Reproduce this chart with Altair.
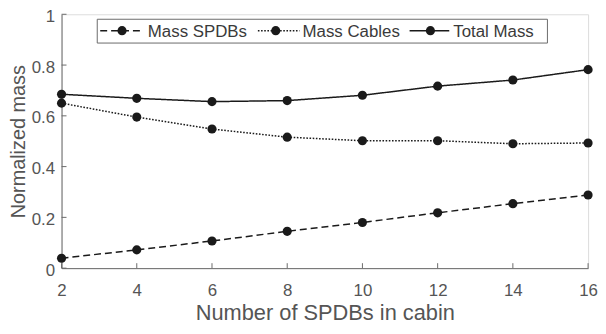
import altair as alt
import pandas as pd

spdbs_count = [2, 4, 6, 8, 10, 12, 14, 16]
mass_spdbs = [0.039, 0.072, 0.107, 0.145, 0.180, 0.218, 0.254, 0.288]
mass_cables = [0.650, 0.595, 0.548, 0.516, 0.502, 0.502, 0.490, 0.493]
total_mass = [0.685, 0.669, 0.656, 0.660, 0.681, 0.717, 0.741, 0.782]
series_names = ["Mass SPDBs", "Mass Cables", "Total Mass"]
x_ticks = [2, 4, 6, 8, 10, 12, 14, 16]
y_ticks = [0, 0.2, 0.4, 0.6, 0.8, 1]

rows = []
for name, vals in zip(series_names, [mass_spdbs, mass_cables, total_mass]):
    for n, v in zip(spdbs_count, vals):
        rows.append({"n": n, "mass": v, "series": name})
df = pd.DataFrame(rows)

W, H = 531, 256
FONT = "Liberation Sans"
TXT = "#555555"
AX = "#6a6a6a"
INK = "#1a1a1a"
dashes = [[7, 4], [1.6, 1.6], [1, 0]]

xs = alt.Scale(domain=[2, 16], nice=False, zero=False)
ys = alt.Scale(domain=[0, 1], nice=False)

base = alt.Chart(df)
lines = base.mark_line(color=INK, strokeWidth=1.5).encode(
    x=alt.X("n:Q", scale=xs, axis=alt.Axis(
        values=x_ticks, title="Number of SPDBs in cabin", grid=False, ticks=False,
        labelFont=FONT, labelFontSize=17, labelColor=TXT, labelBaseline="alphabetic",
        labelPadding=28, titleFont=FONT, titleFontSize=22, titleFontWeight="normal",
        titleColor=TXT, titleX=W / 2, titleY=52, titleBaseline="alphabetic",
        titleAnchor="middle", domainColor=AX, labelFlush=False)),
    y=alt.Y("mass:Q", scale=ys, axis=alt.Axis(
        values=y_ticks, format="~g", title="Normalized mass", grid=False, ticks=False,
        labelFont=FONT, labelFontSize=17, labelColor=TXT, labelPadding=7,
        labelOffset=2, titleFont=FONT, titleFontSize=20, titleFontWeight="normal",
        titleColor=TXT, titleX=-37, titleY=H / 2, titleAngle=270,
        titleBaseline="alphabetic", titleAlign="center", domainColor=AX,
        labelFlush=False)),
    strokeDash=alt.StrokeDash("series:N", scale=alt.Scale(domain=series_names, range=dashes), legend=None),
    detail="series:N",
)
points = base.mark_point(filled=True, color=INK, size=85, opacity=1).encode(
    x=alt.X("n:Q", scale=xs), y=alt.Y("mass:Q", scale=ys))

xtick_df = pd.DataFrame({"t": x_ticks})
ytick_df = pd.DataFrame({"t": y_ticks})
xt = alt.Chart(xtick_df).mark_rule(color=AX, strokeWidth=1).encode(
    x=alt.X("t:Q", scale=xs), y=alt.value(H), y2=alt.value(H - 5))
yt = alt.Chart(ytick_df).mark_rule(color=AX, strokeWidth=1).encode(
    y=alt.Y("t:Q", scale=ys), x=alt.value(0), x2=alt.value(5))

one = alt.Data(values=[{"a": 1}])
legend_layers = [alt.Chart(one).mark_rect(fill="white", stroke=AX, strokeWidth=1).encode(
    x=alt.value(36), x2=alt.value(490), y=alt.value(5), y2=alt.value(29))]
leg_pos = [(39, 82, 61, 87), (198, 240, 216, 243), (351, 391, 372, 395)]
for name, d, (x1, x2, xm, xt_) in zip(series_names, dashes, leg_pos):
    legend_layers.append(alt.Chart(one).mark_rule(color=INK, strokeWidth=1.5, strokeDash=d).encode(
        x=alt.value(x1), x2=alt.value(x2), y=alt.value(16.5)))
    legend_layers.append(alt.Chart(one).mark_point(filled=True, color=INK, size=85, opacity=1).encode(
        x=alt.value(xm), y=alt.value(16.5)))
    legend_layers.append(alt.Chart(one).mark_text(font=FONT, fontSize=17, color="#3a3a3a", align="left",
                                                  baseline="alphabetic").encode(
        x=alt.value(xt_), y=alt.value(22.5), text=alt.value(name)))

chart = alt.layer(xt, yt, lines, points, *legend_layers).properties(
    width=W, height=H,
    autosize=alt.AutoSizeParams(type="none"),
    padding={"left": 54, "top": 5, "right": 10, "bottom": 57},
).configure_view(stroke=AX, strokeWidth=1).configure(background="white")

chart.save("out.html", embed_options={"renderer": "svg", "actions": False})
